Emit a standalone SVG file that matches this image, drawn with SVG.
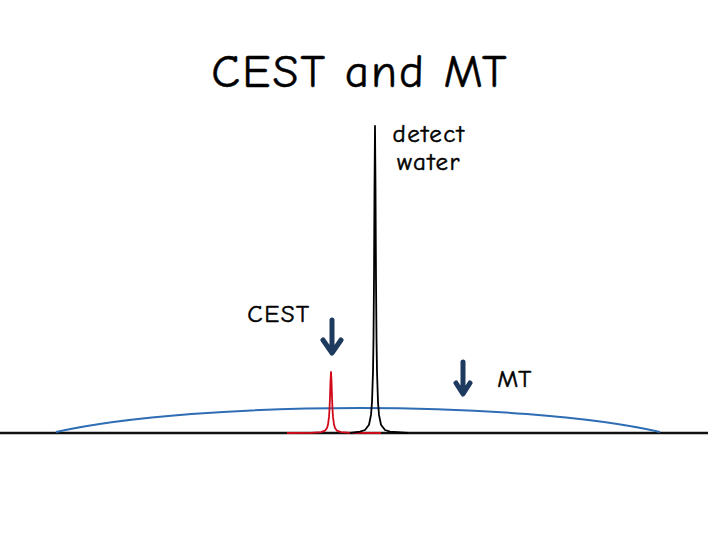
<svg xmlns="http://www.w3.org/2000/svg" width="720" height="540" viewBox="0 0 720 540">
<style>
.t{font-family:"Comic Sans MS","Comic Neue","DejaVu Sans","Noto Sans",sans-serif;fill:#000;stroke:#000;stroke-width:0.5}
.arr{fill:none;stroke:#1f3a5f;stroke-width:5;stroke-linecap:round;stroke-linejoin:round}
</style>
<rect width="720" height="540" fill="#fff"/>
<g id="title"><text class="t" x="360" y="87" font-size="47" letter-spacing="2" text-anchor="middle">CEST and MT</text></g>
<g id="axis"><line x1="0" y1="433" x2="708" y2="433" stroke="#111" stroke-width="2.5"/></g>
<g id="mt-curve"><path d="M56,432 C200,400 520,400 660,432" fill="none" stroke="#2e6db4" stroke-width="2"/></g>
<g id="cest-peak"><polyline fill="none" stroke="#d10a1a" stroke-width="1.8" stroke-linejoin="round" points="287,433 311,432.8 321,432.1 325,430.7 327,428 328,424.6 329,416.9 329.5,409.2 330,397 330.5,381 331,372 331.5,381 332,397 332.5,409.2 333,416.9 334,424.6 335,428 337,430.7 341,432.1 351,432.8 381,433"/></g>
<g id="water-peak"><polyline fill="none" stroke="#000" stroke-width="1.8" stroke-linejoin="round" points="350,433 360,431.6 365,430 369,424.7 371,414.9 372,402.3 373,371.6 373.5,338.5 374,279.5 374.5,187.4 375,126 375.5,187.4 376,279.5 376.5,338.5 377,371.6 378,402.3 379,414.9 381,424.7 385,430 390,431.6 408,433"/></g>
<g id="water-label"><text class="t" x="429" y="142" font-size="25" letter-spacing="1.5" text-anchor="middle">detect</text><text class="t" x="429" y="170" font-size="25" letter-spacing="1.5" text-anchor="middle">water</text></g>
<g id="cest-label"><text class="t" x="279" y="322" font-size="25" letter-spacing="1.5" text-anchor="middle">CEST</text></g>
<g id="cest-arrow"><path class="arr" d="M332,320 V352 M323,340 L332,353 L341,340"/></g>
<g id="mt-label"><text class="t" x="515" y="387" font-size="25" letter-spacing="1.5" text-anchor="middle">MT</text></g>
<g id="mt-arrow"><path class="arr" d="M463,362 V393 M456,383 L463,394 L470,383"/></g>
</svg>
